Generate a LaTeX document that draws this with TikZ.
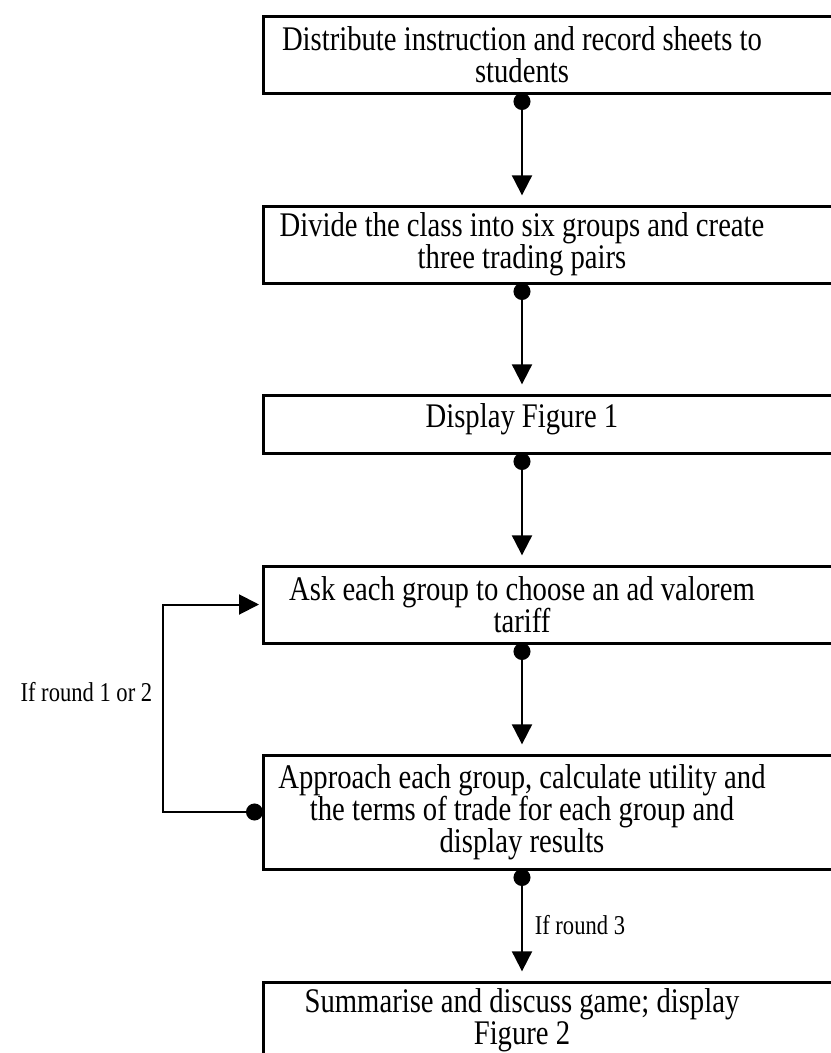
\documentclass[tikz,border=0pt]{standalone}
\usepackage{fontspec}
\setmainfont{Liberation Serif}[FakeStretch=0.83]
\usetikzlibrary{arrows.meta,positioning}

\begin{document}
\begin{tikzpicture}[
  x=0.75pt, y=-0.75pt,
  stage/.style={minimum width=388.5pt, minimum height=57.75pt, inner sep=0pt, outer sep=0pt, align=center, font={\fontsize{25.9pt}{24pt}\selectfont}},
  frame/.style={draw, line width=2.25pt},
  flow/.style={{Circle[length=12.75pt]}-{Triangle[width=15pt, length=15pt]}, line width=1.5pt, shorten >=8pt},
  lbl/.style={font={\fontsize{20.4pt}{22pt}\selectfont}},
]
  \useasboundingbox (0,0) rectangle (831,1053);
  \clip (0,0) rectangle (831,1053);

  \node[stage] (s1) at (522,54.5) {Distribute instruction and record sheets to\\students};
  \node[stage, below=84.75pt of s1] (s2) {Divide the class into six groups and create\\three trading pairs};
  \node[stage, below=84pt of s2, minimum height=43.5pt, text depth=13pt] (s3) {Display Figure 1};
  \node[stage, below=84.75pt of s3] (s4) {Ask each group to choose an ad valorem\\tariff};
  \node[stage, below=84pt of s4, minimum height=85.5pt] (s5) {Approach each group, calculate utility and\\the terms of trade for each group and\\display results};
  \node[stage, below=84.75pt of s5] (s6) {Summarise and discuss game; display\\Figure 2};

  % boxes run past the right edge of the page
  \foreach \i in {1,...,6}
    \draw[frame] (s\i.north west) rectangle ([xshift=60pt]s\i.south east);

  \foreach \a/\b in {s1/s2,s2/s3,s3/s4,s4/s5}
    \draw[flow] (\a.south) -- (\b.north);
  \draw[flow] (s5.south) -- node[right=5.5pt, lbl] {If round 3} (s6.north);
  \draw[flow, shorten >=3pt] (s5.west) -- ++(-100,0) |- node[left=4pt, pos=0.29, lbl] {If round 1 or 2} (s4.west);
\end{tikzpicture}
\end{document}
